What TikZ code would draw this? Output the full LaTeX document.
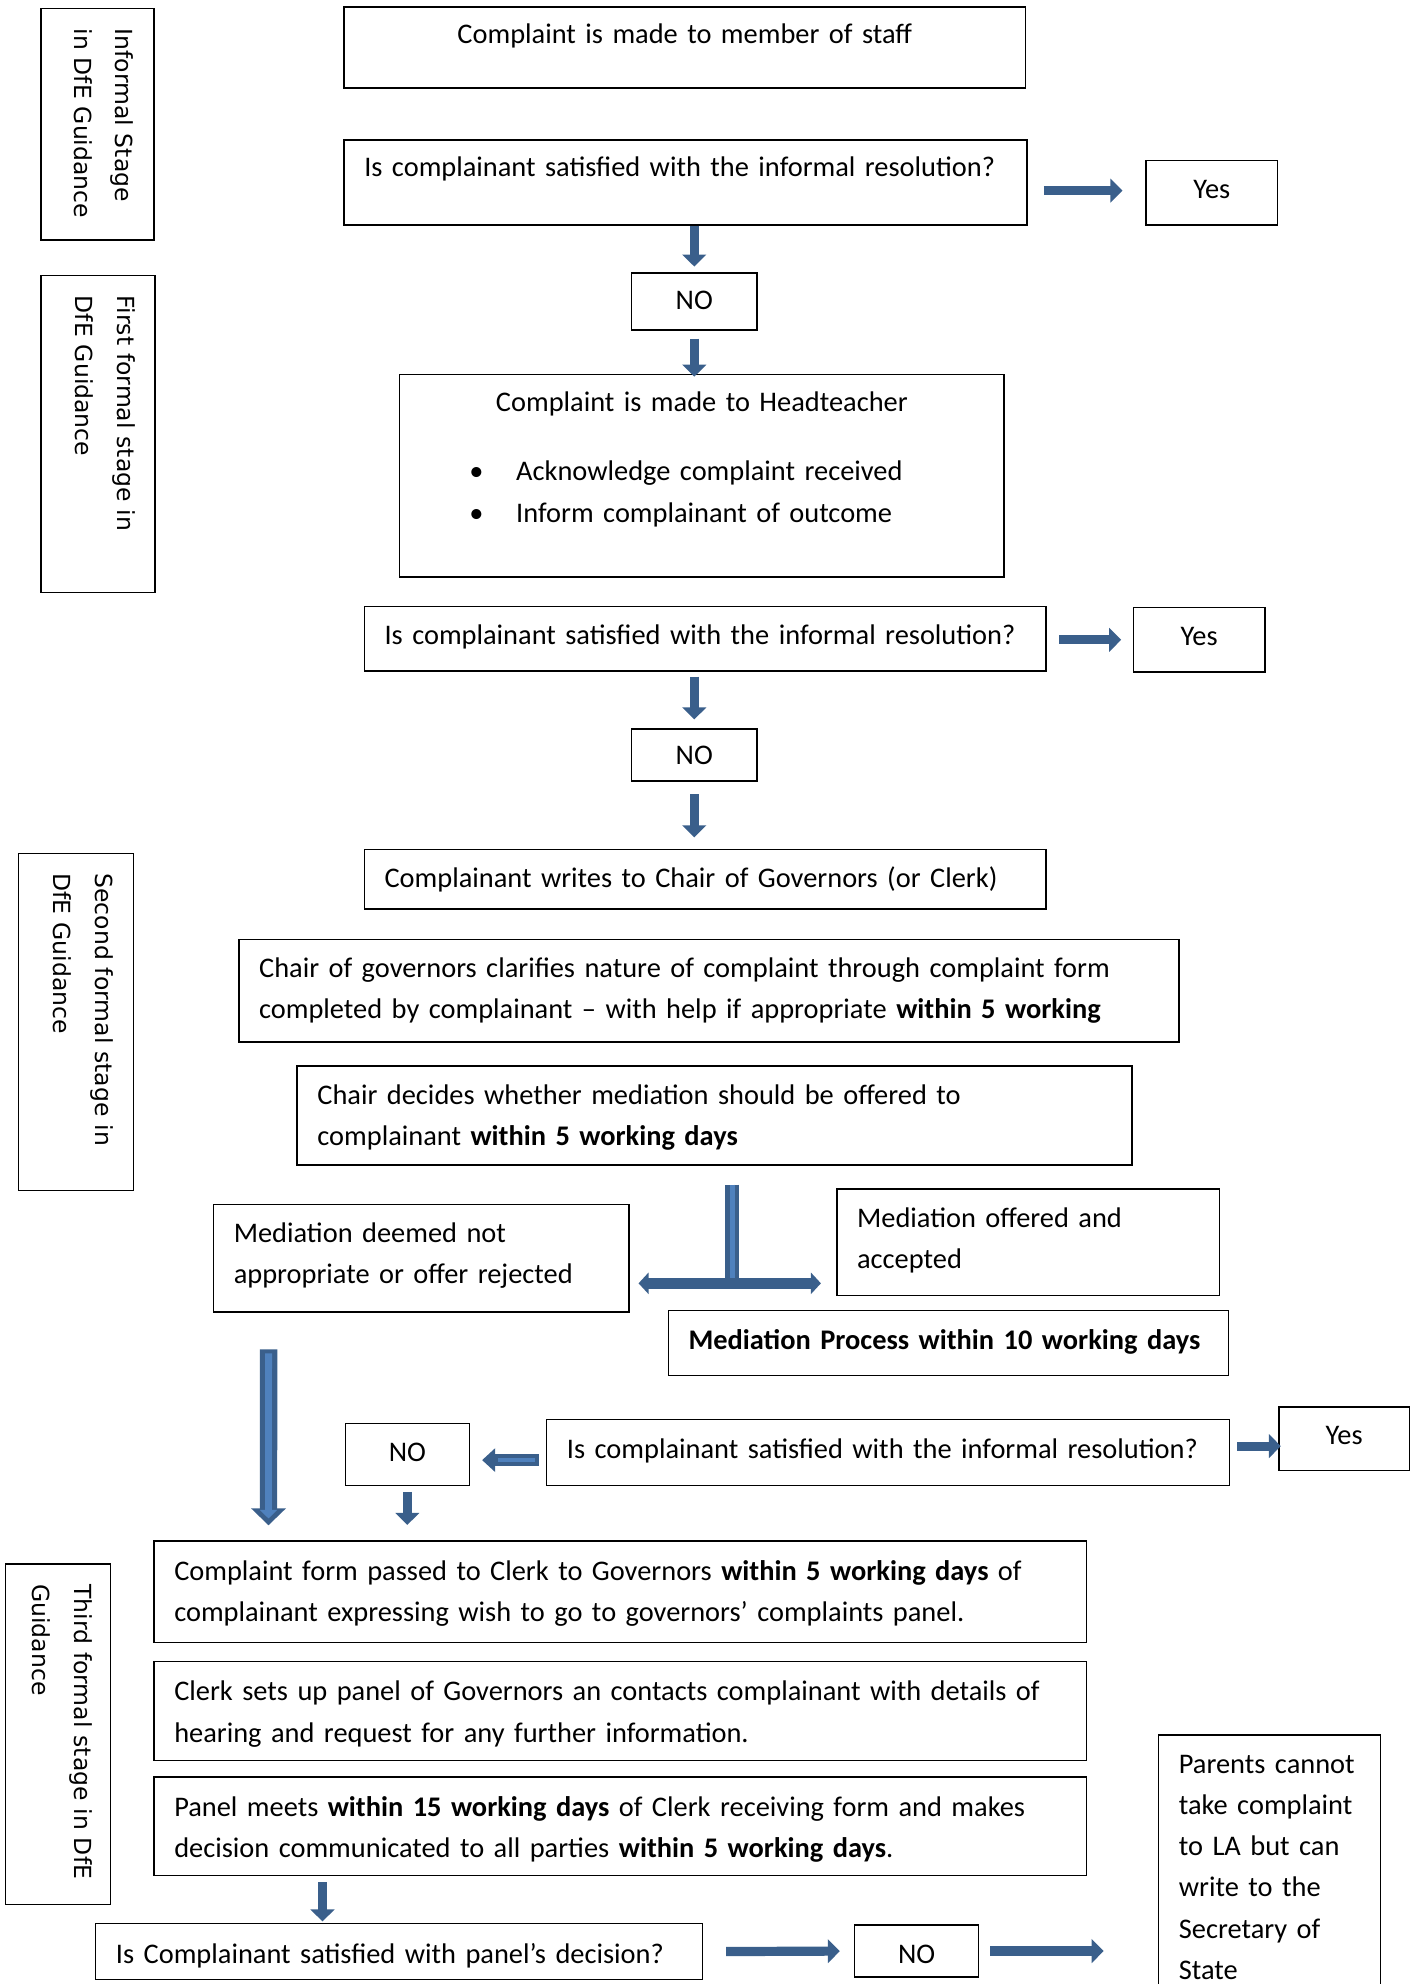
\documentclass[tikz,border=0pt]{standalone}
\usepackage{fontspec}
\setmainfont{Carlito}
\newfontfamily\sidefont{DejaVu Sans}
\usetikzlibrary{arrows.meta}
\definecolor{arrowc}{HTML}{3A5F8B}
\definecolor{stripec}{HTML}{4F81BD}
\def\uu{0.6334pt}
% box: [opts]{name}{x1}{y1}{x2}{y2}{first baseline y}{text}
\newcommand\bx[8][]{\node[box,anchor=north west,inner xsep=10.13pt,inner ysep=0pt,
  text width={(#5-#3-32)*\uu},text height={(#7-#4)*\uu},text depth={(#6-#7)*\uu},#1] (#2) at (#3,#4) {#8};}
% rotated side box: [opts]{name}{x1}{y1}{x2}{y2}{baseline offset from right edge}{text}
\newcommand\sbx[8][]{\node[box,sidebox,rotate=-90,anchor=north west,inner xsep=10.13pt,inner ysep=0pt,
  text width={(#6-#4-32)*\uu},text height={(#7)*\uu},text depth={(#5-#3-#7)*\uu},#1] (#2) at (#5,#4) {#8};}
\newcommand\nohy{\hyphenpenalty=10000 \exhyphenpenalty=10000 }
\tikzset{
  box/.style={draw=black,line width=0.7pt,font=\nohy\fontsize{14.2}{20.65}\selectfont,align=left},
  sidebox/.style={font=\nohy\sidefont\fontsize{11.75}{20.9}\selectfont},
  arr/.style={draw=arrowc,line width=4.6pt,-{Triangle[width=11.7pt,length=6pt]}},
  bigarr/.style={draw=arrowc,line width=8.7pt,-{Triangle[width=17pt,length=8.5pt]}},
  bigin/.style={draw=stripec,line width=3.4pt,-{Triangle[width=8.5pt,length=4.3pt]}},
  tbar/.style={draw=arrowc,line width=2.3pt,double=stripec,double distance=2.4pt},
  tarrone/.style={draw=arrowc,line width=5.6pt,-{Triangle[width=10.5pt,length=5pt]}},
  leftarr/.style={draw=arrowc,line width=6pt,-{Triangle[width=11.5pt,length=6.5pt]}},
  leftin/.style={draw=stripec,line width=2pt},
}
\begin{document}
\begin{tikzpicture}[x=0.6334pt,y=-0.6334pt]
\useasboundingbox (0,0) rectangle (1117,1566.1);
% side boxes
\sbx{sa}{33}{6}{122}{189}{30}{\mbox{Informal Stage}\\\mbox{in DfE Guidance}}
\sbx{sb}{33}{217}{123}{467}{30}{\mbox{First formal stage in}\\\mbox{DfE Guidance}}
\sbx{sc}{15}{673}{106}{939}{30}{\mbox{Second formal stage in}\\\mbox{DfE Guidance}}
\sbx{sd}{5}{1234}{88}{1503}{29}{\mbox{Third formal stage in DfE}\\\mbox{Guidance}}
% main boxes
\bx[align=center]{b1}{271}{5}{809}{69}{34}{Complaint is made to member of staff}
\bx{b2}{271}{110}{810}{177}{139}{\mbox{Is complainant satisfied with the informal resolution?}}
\bx[align=center]{yes1}{904}{126}{1008}{177}{156}{Yes}
\bx[align=center]{no1}{498}{215}{597}{260}{244}{NO}
\bx{b3}{315}{295}{792}{455}{324}{{\centering Complaint is made to Headteacher\par}\vspace{14.2pt}
\hspace*{24.7pt}\makebox[23.4pt][l]{\textbullet}Acknowledge complaint received\\
\hspace*{24.7pt}\makebox[23.4pt][l]{\textbullet}Inform complainant of outcome}
\bx{b4}{287}{478}{825}{529}{508}{\mbox{Is complainant satisfied with the informal resolution?}}
\bx[align=center]{yes2}{894}{479}{998}{530}{509}{Yes}
\bx[align=center]{no2}{498}{575}{597}{616}{603}{NO}
\bx{b5}{287}{670}{825}{717}{700}{\mbox{Complainant writes to Chair of Governors (or Clerk)}}
\bx{b6}{188}{741}{930}{822}{771}{\mbox{Chair of governors clarifies nature of complaint through complaint form}\\\mbox{completed by complainant – with help if appropriate \textbf{within 5 working}}}
\bx{b7}{234}{841}{893}{919}{871}{Chair decides whether mediation should be offered to\\complainant \textbf{within 5 working days}}
\bx{b8}{168}{950}{496}{1035}{980}{Mediation deemed not\\appropriate or offer rejected}
\bx{b9}{660}{938}{962}{1022}{968}{Mediation offered and\\accepted}
\bx{b10}{527}{1034}{969}{1085}{1065}{\mbox{\textbf{Mediation Process within 10 working days}}}
\bx[align=center]{no3}{272}{1123}{370}{1172}{1153}{NO}
\bx{b11}{431}{1120}{970}{1172}{1151}{\mbox{Is complainant satisfied with the informal resolution?}}
\bx[align=center]{yes3}{1009}{1110}{1112}{1160}{1140}{Yes}
\bx{b12}{121}{1216}{857}{1296}{1247}{\mbox{Complaint form passed to Clerk to Governors \textbf{within 5 working days} of}\\\mbox{complainant expressing wish to go to governors’ complaints panel.}}
\bx{b13}{121}{1311}{857}{1389}{1342}{\mbox{Clerk sets up panel of Governors an contacts complainant with details of}\\\mbox{hearing and request for any further information.}}
\bx{b14}{121}{1402}{857}{1480}{1433}{\mbox{Panel meets \textbf{within 15 working days} of Clerk receiving form and makes}\\\mbox{decision communicated to all parties \textbf{within 5 working days}.}}
\bx{b15}{75}{1518}{554}{1562}{1549}{\mbox{Is Complainant satisfied with panel’s decision?}}
\bx[align=center]{no4}{674}{1519}{772}{1560}{1549}{NO}
\bx{b16}{914}{1369}{1089}{1585}{1399}{\mbox{Parents cannot}\\\mbox{take complaint}\\\mbox{to LA but can}\\\mbox{write to the}\\\mbox{Secretary of}\\\mbox{State}}
% arrows
\draw[arr,shorten <=8.2pt,shorten >=11.4pt] ([yshift=1pt]b2.east |- yes1.west) -- ([yshift=1pt]yes1.west);
\draw[arr,shorten >=2.9pt] (no1.north |- b2.south) -- (no1.north);
\draw[arr,shorten <=3.9pt,shorten >=-1.5pt] (no1.south) -- (no1.south |- b3.north);
\draw[arr,shorten <=6.3pt,shorten >=5.7pt] (b4.east |- yes2.west) -- (yes2.west);
\draw[arr,shorten <=2.5pt,shorten >=4.5pt] (no2.north |- b4.south) -- (no2.north);
\draw[arr,shorten <=6.3pt,shorten >=5.7pt] (no2.south) -- (no2.south |- b5.north);
% T connector
\coordinate (tj) at (578,1013);
\draw[tbar,shorten <=9.5pt] (b7.south -| tj) -- (tj);
\draw[tarrone,shorten >=4.4pt] (tj) -- (b8.east |- tj);
\draw[tarrone,shorten >=7.6pt] (tj) -- (b9.west |- tj);
% big arrow
\draw[bigarr,shorten <=18.4pt,shorten >=7.6pt] ([xshift=27.9pt]b8.south west) -- ([xshift=57.6pt]b12.north west);
\draw[bigin,shorten <=20.4pt,shorten >=11pt] ([xshift=27.9pt]b8.south west) -- ([xshift=57.6pt]b12.north west);
% third-stage arrows
\draw[leftarr,shorten <=3.7pt,shorten >=6pt] ([yshift=-3.8pt]b11.west) -- ([yshift=-3.8pt]no3.east |- b11.west);
\draw[leftin,shorten <=5.5pt,shorten >=14pt] ([yshift=-3.8pt]b11.west) -- ([yshift=-3.8pt]no3.east |- b11.west);
\draw[arr,shorten <=3.6pt,shorten >=-1.3pt] ([yshift=3.2pt]b11.east) -- ([yshift=3.2pt]yes3.west |- b11.east);
\draw[arr,shorten <=2.8pt,shorten >=7.8pt] (no3.south) -- (no3.south |- b12.north);
\draw[arr,shorten <=3pt,shorten >=0.8pt] ([xshift=84.6pt]b14.south west) -- ([xshift=84.6pt]b14.south west |- b15.north);
\draw[arr,shorten <=11.4pt,shorten >=7pt] (b15.east) -- (no4.west);
\draw[arr,shorten <=5.5pt,shorten >=27.1pt] (no4.east) -- (no4.east -| b16.west);
\end{tikzpicture}
\end{document}
